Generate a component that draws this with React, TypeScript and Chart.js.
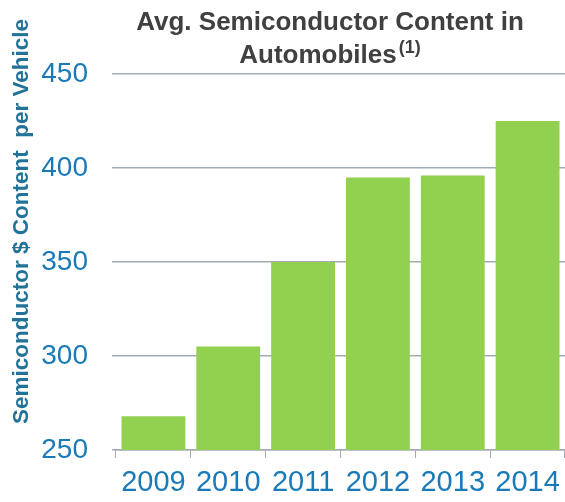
import { useEffect, useRef } from 'react';
import { Chart, registerables } from 'chart.js';

Chart.register(...registerables);

const years = ['2009', '2010', '2011', '2012', '2013', '2014'];
const contentPerVehicle = [268, 305, 350, 395, 396, 425];
const axisMin = 250;
const axisMax = 450;
const axisStep = 50;
const titleLines = ['Avg. Semiconductor Content in', 'Automobiles'];
const titleNote = '(1)';
const yAxisLabel = 'Semiconductor $ Content  per Vehicle';

const FONT = '"Liberation Sans", Arial, Helvetica, sans-serif';
const TICK_BLUE = '#1a7ab8';
const GRID_GREY = '#a3abb3';

// Draws the two-line heading (with its footnote marker) and the rotated value-axis caption.
const headerPlugin = {
  id: 'header',
  afterDraw(chart: any) {
    const ctx = chart.ctx as CanvasRenderingContext2D;
    ctx.save();
    ctx.fillStyle = '#404040';
    ctx.textBaseline = 'alphabetic';
    const cx = 330;

    ctx.font = `bold 26px ${FONT}`;
    ctx.textAlign = 'center';
    ctx.fillText(titleLines[0], cx, 30);

    const w2 = ctx.measureText(titleLines[1]).width;
    ctx.font = `bold 18px ${FONT}`;
    const wn = ctx.measureText(titleNote).width;
    const start = cx - (w2 + 2 + wn) / 2;
    ctx.textAlign = 'left';
    ctx.font = `bold 26px ${FONT}`;
    ctx.fillText(titleLines[1], start, 63);
    ctx.font = `bold 18px ${FONT}`;
    ctx.fillText(titleNote, start + w2 + 2, 53);

    ctx.translate(28, 221.5);
    ctx.rotate(-Math.PI / 2);
    ctx.font = `bold 22.5px ${FONT}`;
    ctx.fillStyle = '#237399';
    ctx.textAlign = 'center';
    ctx.fillText(yAxisLabel, 0, 0);
    ctx.restore();
  },
};

export default function App() {
  const canvasRef = useRef<HTMLCanvasElement | null>(null);

  useEffect(() => {
    if (!canvasRef.current) return;
    const chart = new Chart(canvasRef.current, {
      type: 'bar',
      data: {
        labels: years,
        datasets: [
          {
            data: contentPerVehicle,
            backgroundColor: '#92d050',
            borderWidth: 0,
            categoryPercentage: 1,
            barPercentage: 0.853,
          },
        ],
      },
      plugins: [headerPlugin],
      options: {
        responsive: false,
        animation: false,
        devicePixelRatio: 1,
        layout: { padding: { top: 74, left: 0, right: 0, bottom: 0 } },
        plugins: {
          legend: { display: false },
          title: { display: false },
          tooltip: { enabled: false },
        },
        scales: {
          x: {
            grid: {
              offset: true,
              drawOnChartArea: false,
              drawTicks: true,
              tickLength: 8,
              color: GRID_GREY,
              lineWidth: 1,
            },
            border: { display: true, color: GRID_GREY, width: 1.5 },
            ticks: {
              color: TICK_BLUE,
              font: { size: 29, family: FONT },
              padding: 8,
              maxRotation: 0,
            },
            afterFit: (scale: any) => {
              scale.height = 52;
              scale.paddingLeft = 0;
              scale.paddingRight = 0;
            },
          },
          y: {
            min: axisMin,
            max: axisMax,
            ticks: {
              stepSize: axisStep,
              color: TICK_BLUE,
              font: { size: 28, family: FONT },
              padding: 24,
            },
            grid: {
              color: GRID_GREY,
              lineWidth: 1.5,
              drawTicks: true,
              tickLength: 4,
            },
            border: { display: false },
            afterFit: (scale: any) => {
              scale.width = 116;
            },
          },
        },
      },
    });
    return () => chart.destroy();
  }, []);

  return (
    <div style={{ position: 'fixed', left: 0, top: 0, width: 565, height: 502, background: '#fff' }}>
      <canvas ref={canvasRef} width={565} height={502} style={{ display: 'block' }} />
    </div>
  );
}
